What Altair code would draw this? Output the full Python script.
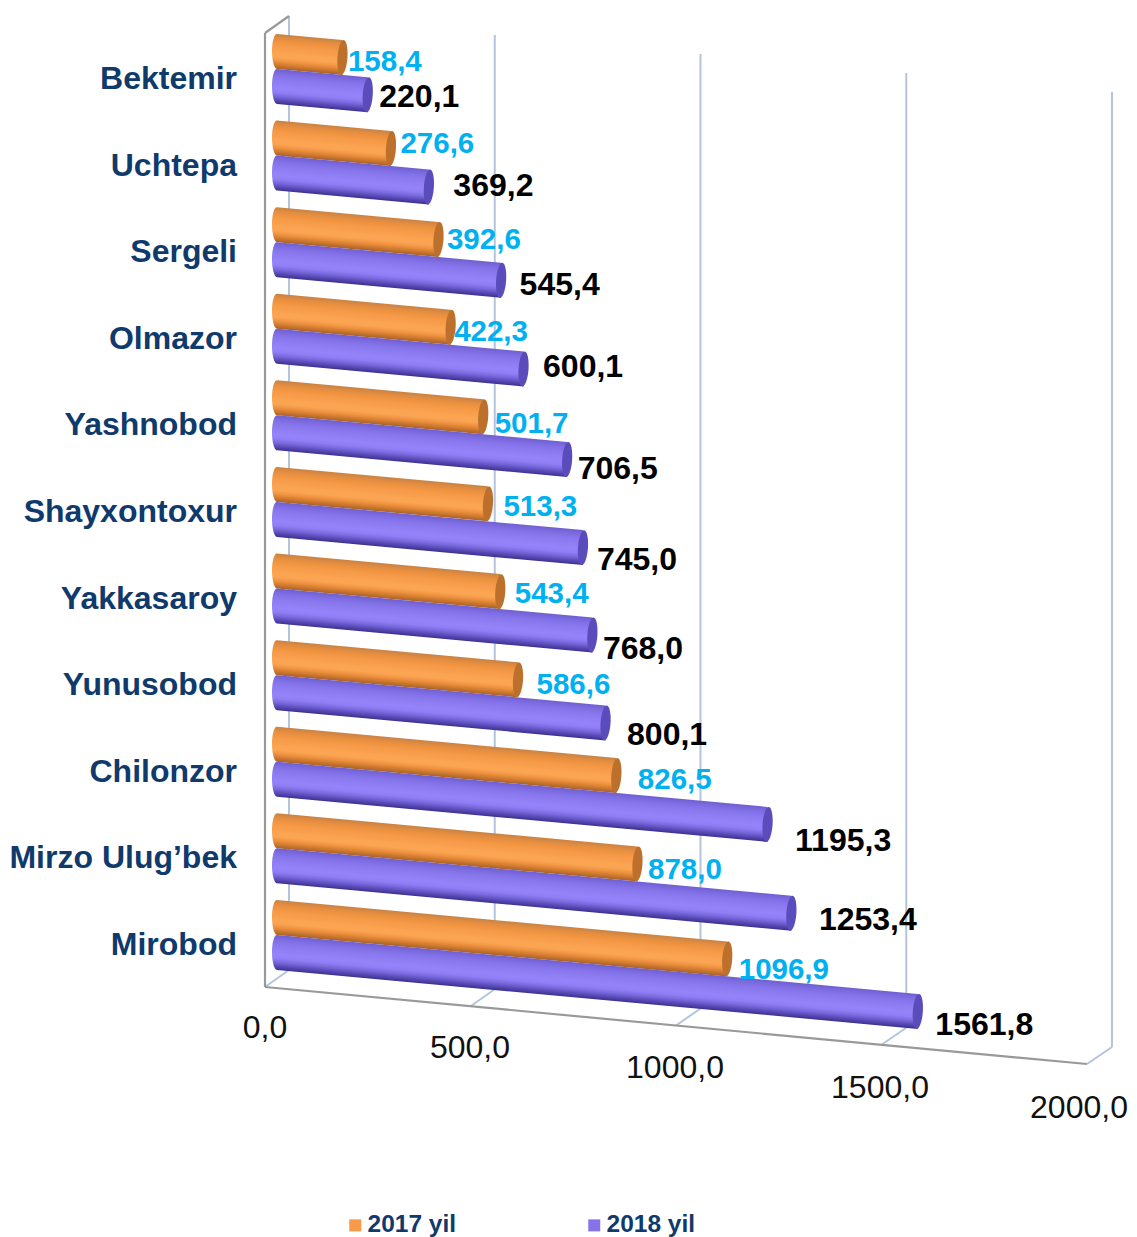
import math
import altair as alt
import pandas as pd

# ---- values (top to bottom)
categories = ["Bektemir", "Uchtepa", "Sergeli", "Olmazor", "Yashnobod", "Shayxontoxur",
              "Yakkasaroy", "Yunusobod", "Chilonzor", "Mirzo Ulug\u2019bek", "Mirobod"]
y2017 = [158.4, 276.6, 392.6, 422.3, 501.7, 513.3, 543.4, 586.6, 826.5, 878.0, 1096.9]
y2018 = [220.1, 369.2, 545.4, 600.1, 706.5, 745.0, 768.0, 800.1, 1195.3, 1253.4, 1561.8]
txt2017 = ["158,4", "276,6", "392,6", "422,3", "501,7", "513,3", "543,4", "586,6", "826,5", "878,0", "1096,9"]
txt2018 = ["220,1", "369,2", "545,4", "600,1", "706,5", "745,0", "768,0", "800,1", "1195,3", "1253,4", "1561,8"]
ticks = [0, 500, 1000, 1500, 2000]
tick_text = ["0,0", "500,0", "1000,0", "1500,0", "2000,0"]
series = ["2017 yil", "2018 yil"]

# ---- layout of the fake 3-D projection (kept apart from the data)
W, H = 1121, 1229
PX = 0.41            # pixels per unit along the value axis
X_FRONT = 265        # page x of value 0 on the front floor edge
DEPTH_X, DEPTH_Y = 24, 17
FLOOR_Y, TOP_Y = 987, 33
RISE = 0.0385        # floor fall per value unit
FRONT_STRETCH, BACK_STRETCH = 0.411 / PX, 0.4115 / PX
BAR_SLOPE = 0.092
R = 17.5
CAP_RX = 5
ROW = 86.6
BASE = {"2017 yil": 917, "2018 yil": 952}
LABEL_X0 = 273       # bar end reference for the value labels
END_X0 = 277.5       # centre of the end cap at value 0
START_X = 277
tick_shift = [0, 0, 0, 0, -6]
gap2017 = [(10, 3), (14, -6), (13, -1), (8, 4), (16, 6), (20, 2), (19, 1), (23, 4), (26, 3), (15, 5), (16, 10)]
gap2018 = [(16, 1), (29, -2.5), (23, 4), (24, -3), (15, 8), (18.5, 11), (15, 13), (26, 11), (32, 16), (32, 6), (22, 12)]

shade = {
    "2017 yil": ["#c98242", "#e08c42", "#f0933f", "#f59a48", "#f89e4c", "#fba553", "#fba553", "#ef9240", "#cf7a2e", "#a8602a"],
    "2018 yil": ["#6f5fd0", "#7c6be0", "#8574ea", "#8b7af0", "#907ff5", "#9483fa", "#8f7ef4", "#7a69de", "#5a4bb8", "#3c3090"],
}
cap_color = {"2017 yil": "#bd702c", "2018 yil": "#5b4cbc"}
blue_text, black_text, navy = "#00b0f0", "#000000", "#0f3a6b"
FONT = "Liberation Sans"


def vx(page_x):
    return (page_x - X_FRONT) / PX


def bar_y(base, i, page_x):
    return base - ROW * (10 - i) + BAR_SLOPE * (page_x - 272)


X = alt.X("x:Q", axis=None, scale=alt.Scale(domain=[0, 2000], range=[X_FRONT - 8, X_FRONT - 8 + PX * 2000]))
Y = alt.Y("y:Q", axis=None, scale=alt.Scale(domain=[8, 8 + H], range=[0, H]))
COL = alt.Color("c:N", scale=None, legend=None)


def cylinder(i, s, v):
    """One bar as a sheared area whose gradient runs across the bar."""
    end_x = END_X0 + PX * v
    base = BASE[s]
    pts = [START_X - CAP_RX * math.cos(math.radians(a)) for a in range(0, 91, 6)] + [end_x]
    rows = []
    for px in pts:
        half = R * math.sqrt(max(0.0, 1 - ((px - START_X) / CAP_RX) ** 2)) if px < START_X else R
        rows.append({"x": vx(px), "px": px, "y": bar_y(base, i, px) - half, "y2": bar_y(base, i, px) + half})
    xmin, xmax = min(r["px"] for r in rows), max(r["px"] for r in rows)
    ymin, ymax = min(r["y"] for r in rows), max(r["y2"] for r in rows)
    bw, bh = xmax - xmin, ymax - ymin
    # s = (py - centre(px)) / 2R + .5 written in bounding-box coordinates u, w
    A = (ymin - bar_y(base, i, xmin)) / (2 * R) + 0.5
    Bu = -BAR_SLOPE * bw / (2 * R)
    Cw = bh / (2 * R)
    n2 = Bu * Bu + Cw * Cw
    x1, y1 = -A * Bu / n2, -A * Cw / n2
    x2, y2 = x1 + Bu / n2, y1 + Cw / n2
    stops = [alt.GradientStop(color=c, offset=k / (len(shade[s]) - 1)) for k, c in enumerate(shade[s])]
    grad = alt.LinearGradient(gradient="linear", stops=stops, x1=x1, y1=y1, x2=x2, y2=y2)
    return alt.Chart(pd.DataFrame(rows)).mark_area(color=grad, interpolate="linear", opacity=1).encode(
        x=X, y=Y, y2=alt.Y2("y2:Q"))


bars, caps, labels = [], [], []
for i, cat in enumerate(categories):
    for s, vals, txts, gaps, col in ((series[0], y2017, txt2017, gap2017, blue_text),
                                     (series[1], y2018, txt2018, gap2018, black_text)):
        v = vals[i]
        end_x = END_X0 + PX * v
        lab_x = LABEL_X0 + PX * v
        bars.append(cylinder(i, s, v))
        caps.append({"x": vx(end_x), "y": bar_y(BASE[s], i, end_x), "c": cap_color[s]})
        labels.append({"x": vx(lab_x + gaps[i][0]), "y": bar_y(BASE[s], i, lab_x) + gaps[i][1],
                       "t": txts[i], "c": col, "fs": 29.5 if col == blue_text else 32})

# ---- box of the chart
frame, grid = [], []
frame += [{"id": "f1", "x": vx(X_FRONT), "y": TOP_Y}, {"id": "f1", "x": vx(X_FRONT), "y": FLOOR_Y}]
frame += [{"id": "f2", "x": vx(X_FRONT), "y": TOP_Y}, {"id": "f2", "x": vx(X_FRONT + DEPTH_X), "y": TOP_Y - DEPTH_Y}]
frame += [{"id": "f3", "x": 0, "y": FLOOR_Y}, {"id": "f3", "x": 2000 * FRONT_STRETCH, "y": FLOOR_Y + RISE * 2000}]
grid += [{"id": "l", "x": vx(X_FRONT + DEPTH_X), "y": TOP_Y - DEPTH_Y},
         {"id": "l", "x": vx(X_FRONT + DEPTH_X), "y": FLOOR_Y - DEPTH_Y}]
for tv in ticks:
    front = tv * FRONT_STRETCH
    back = tv * BACK_STRETCH + DEPTH_X / PX
    back_floor = FLOOR_Y - DEPTH_Y + RISE * tv
    grid += [{"id": f"s{tv}", "x": front, "y": FLOOR_Y + RISE * tv},
             {"id": f"s{tv}", "x": back, "y": back_floor}]
    if tv > 0:
        grid += [{"id": f"v{tv}", "x": back, "y": back_floor},
                 {"id": f"v{tv}", "x": back, "y": TOP_Y - DEPTH_Y + 0.038 * tv}]

tick_df = pd.DataFrame({"x": [t + d / PX for t, d in zip(ticks, tick_shift)], "t": tick_text,
                        "y": [1026 + 0.04 * t for t in ticks]})
cat_df = pd.DataFrame({"x": vx(237), "t": categories, "y": [78 + ROW * i for i in range(11)]})
legend_df = pd.DataFrame({"s": series, "x": [0, 0], "y": [0, 0]})

grid_l = alt.Chart(pd.DataFrame(grid)).mark_line(strokeWidth=2, color="#b3c4dc").encode(x=X, y=Y, detail="id:N")
frame_l = alt.Chart(pd.DataFrame(frame)).mark_line(strokeWidth=2.2, color="#999999").encode(x=X, y=Y, detail="id:N")
rx = CAP_RX / 17.5
ell = f"M{-rx:.4f},0 a{rx:.4f},1 0 1,0 {2*rx:.4f},0 a{rx:.4f},1 0 1,0 {-2*rx:.4f},0 Z"
cap_l = alt.Chart(pd.DataFrame(caps)).mark_point(shape=ell, filled=True, size=35 * 35, opacity=1, angle=4).encode(
    x=X, y=Y, color=COL)
label_l = alt.Chart(pd.DataFrame(labels)).mark_text(
    align="left", baseline="middle", font=FONT, fontWeight="bold", dy=1.5).encode(
    x=X, y=Y, text="t:N", color=COL, size=alt.Size("fs:Q", scale=None, legend=None))
cat_l = alt.Chart(cat_df).mark_text(align="right", baseline="middle", font=FONT, fontWeight="bold", dy=1,
                                    fontSize=32, color=navy).encode(x=X, y=Y, text="t:N")
tick_l = alt.Chart(tick_df).mark_text(align="center", baseline="middle", font=FONT, fontSize=32, dy=1.5,
                                      color="#111111").encode(x=X, y=Y, text="t:N")
legend_l = alt.Chart(legend_df).mark_square(opacity=0, size=1).encode(
    x=X, y=Y,
    color=alt.Color("s:N", scale=alt.Scale(domain=series, range=["#f9994a", "#8872ea"]),
                    legend=alt.Legend(title=None, orient="none", legendX=335, legendY=1205, columns=2,
                                      columnPadding=125, symbolType="square", symbolSize=144, symbolOpacity=1,
                                      symbolStrokeWidth=0, labelFont=FONT, labelFontSize=24.5, labelFontWeight="bold",
                                      labelColor=navy, labelLimit=200, labelOffset=0, padding=0)))

chart = alt.layer(grid_l, frame_l, *bars, cap_l, label_l, cat_l, tick_l, legend_l).resolve_scale(
    color="independent", size="independent"
).properties(width=W, height=H, padding=0, background="white",
             autosize=alt.AutoSizeParams(type="none")).configure_view(stroke=None)

chart.save("out.html", embed_options={"renderer": "svg", "actions": False})
